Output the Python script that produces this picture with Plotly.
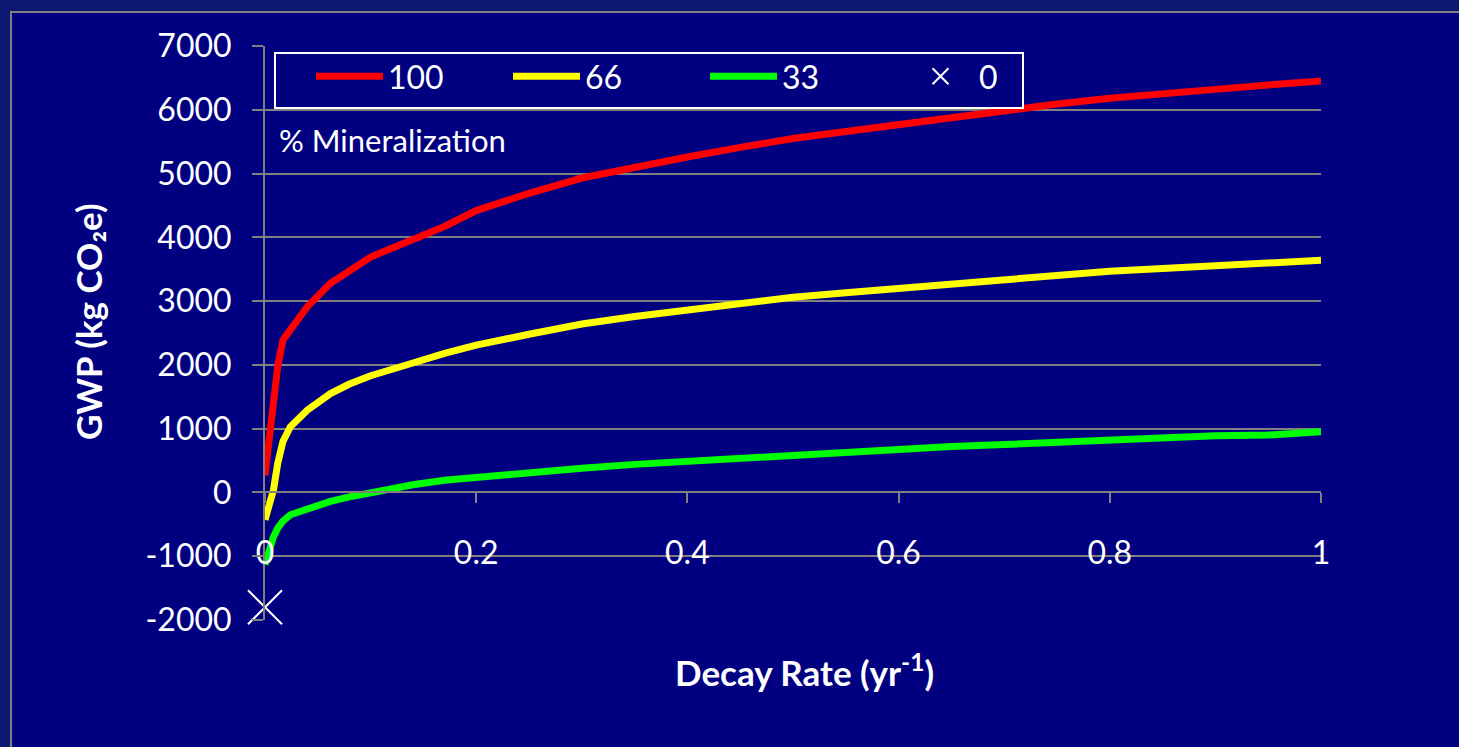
import plotly.graph_objects as go

# ---- data ----
decay_rate = [0, 0.002, 0.005, 0.008, 0.012, 0.017, 0.024, 0.04, 0.062, 0.08, 0.1, 0.12, 0.14,
              0.17, 0.2, 0.25, 0.3, 0.35, 0.4, 0.45, 0.5, 0.55, 0.6, 0.65, 0.7, 0.75, 0.8,
              0.85, 0.9, 0.95, 1.0]
gwp_100 = [270, 560, 1030, 1500, 1970, 2390, 2550, 2910, 3280, 3480, 3690, 3830, 3960,
           4170, 4420, 4690, 4930, 5100, 5260, 5410, 5550, 5660, 5770, 5880, 5980, 6090, 6180,
           6240, 6320, 6390, 6450]
gwp_66 = [-430, -300, -170, 40, 450, 800, 1030, 1290, 1550, 1700, 1830, 1940, 2030,
          2180, 2310, 2480, 2640, 2760, 2860, 2960, 3060, 3130, 3200, 3270, 3340, 3400, 3470,
          3510, 3560, 3600, 3640]
gwp_33 = [-1130, -1000, -860, -700, -560, -450, -350, -250, -140, -70, 0, 70, 120,
          190, 240, 310, 380, 440, 490, 540, 590, 640, 680, 720, 750, 790, 820,
          850, 890, 900, 950]
zero_x = [0]
zero_y = [-1800]

x_ticks = [0, 0.2, 0.4, 0.6, 0.8, 1]
x_ticktext = ["0", "0.2", "0.4", "0.6", "0.8", "1"]
y_ticks = [-2000, -1000, 0, 1000, 2000, 3000, 4000, 5000, 6000, 7000]
y_ticktext = ["-2000", "-1000", "0", "1000", "2000", "3000", "4000", "5000", "6000", "7000"]

# ---- layout geometry (pixels) ----
W, H = 1459, 747
L, R, T, B = 265, 138, 46, 127
PW, PH = W - L - R, H - T - B

def px(xp):
    return (xp - L) / PW

def py(yp):
    return (H - B - yp) / PH

FONT = "Lato, 'Open Sans', sans-serif"
GRAY = "#808080"

fig = go.Figure()
fig.add_trace(go.Scatter(x=decay_rate, y=gwp_100, mode="lines", name="100",
                         line=dict(color="#FF0000", width=7)))
fig.add_trace(go.Scatter(x=decay_rate, y=gwp_66, mode="lines", name="66",
                         line=dict(color="#FFFF00", width=7)))
fig.add_trace(go.Scatter(x=decay_rate, y=gwp_33, mode="lines", name="33",
                         line=dict(color="#00FF00", width=7)))
fig.add_trace(go.Scatter(x=zero_x, y=zero_y, mode="markers", name="0",
                         marker=dict(symbol="x-thin-open", size=34,
                                     line=dict(color="white", width=2), color="white"),
                         cliponaxis=False))

fig.update_layout(
    width=W, height=H,
    margin=dict(l=L, r=R, t=T, b=B, pad=0),
    paper_bgcolor="#0B1870",
    plot_bgcolor="rgba(0,0,0,0)",
    font=dict(family=FONT, color="white", size=32),
    showlegend=True,
    legend=dict(orientation="h", x=px(311), y=py(49), xanchor="left", yanchor="top",
                bgcolor="rgba(0,0,0,0)", borderwidth=0,
                font=dict(family=FONT, size=32, color="white"),
                itemwidth=67, entrywidth=115, entrywidthmode="pixels",
                tracegroupgap=0),
    xaxis=dict(range=[0, 1], anchor="free", position=py(492.4),
               showgrid=False, zeroline=False,
               showline=True, linecolor=GRAY, linewidth=2,
               ticks="outside", ticklen=10, tickwidth=2, tickcolor=GRAY,
               tickvals=x_ticks, ticktext=x_ticktext,
               ticklabelstandoff=22,
               tickfont=dict(family=FONT, size=32, color="white")),
    yaxis=dict(range=[-2000, 7000], tickvals=y_ticks, ticktext=y_ticktext,
               showgrid=True, gridcolor=GRAY, gridwidth=2, zeroline=False,
               showline=True, linecolor=GRAY, linewidth=2,
               ticks="outside", ticklen=11, tickwidth=2, tickcolor=GRAY,
               ticklabelstandoff=14,
               tickfont=dict(family=FONT, size=32, color="white")),
    shapes=[
        dict(type="rect", xref="paper", yref="paper", layer="below",
             x0=px(11), x1=px(W + 20), y0=py(H + 20), y1=py(12),
             fillcolor="#000080", line=dict(color=GRAY, width=2)),
        dict(type="rect", xref="paper", yref="paper", layer="above",
             x0=px(275), x1=px(1023), y0=py(108), y1=py(53),
             fillcolor="#000080", line=dict(color="white", width=2)),
    ],
    annotations=[
        dict(text="% Mineralization", xref="paper", yref="paper",
             x=px(277), y=py(140), xanchor="left", yanchor="middle", showarrow=False,
             font=dict(family=FONT, size=31, color="white")),
        dict(text="<b>Decay Rate (yr<sup>-1</sup>)</b>", xref="paper", yref="paper",
             x=px(804), y=py(670), xanchor="center", yanchor="middle", showarrow=False,
             font=dict(family=FONT, size=35, color="white")),
        dict(text="<b>GWP (kg CO₂e)</b>", xref="paper", yref="paper",
             x=px(88), y=py(322), xanchor="center", yanchor="middle", showarrow=False,
             textangle=-90, font=dict(family=FONT, size=35, color="white")),
    ],
)

fig.write_html("out.html")
